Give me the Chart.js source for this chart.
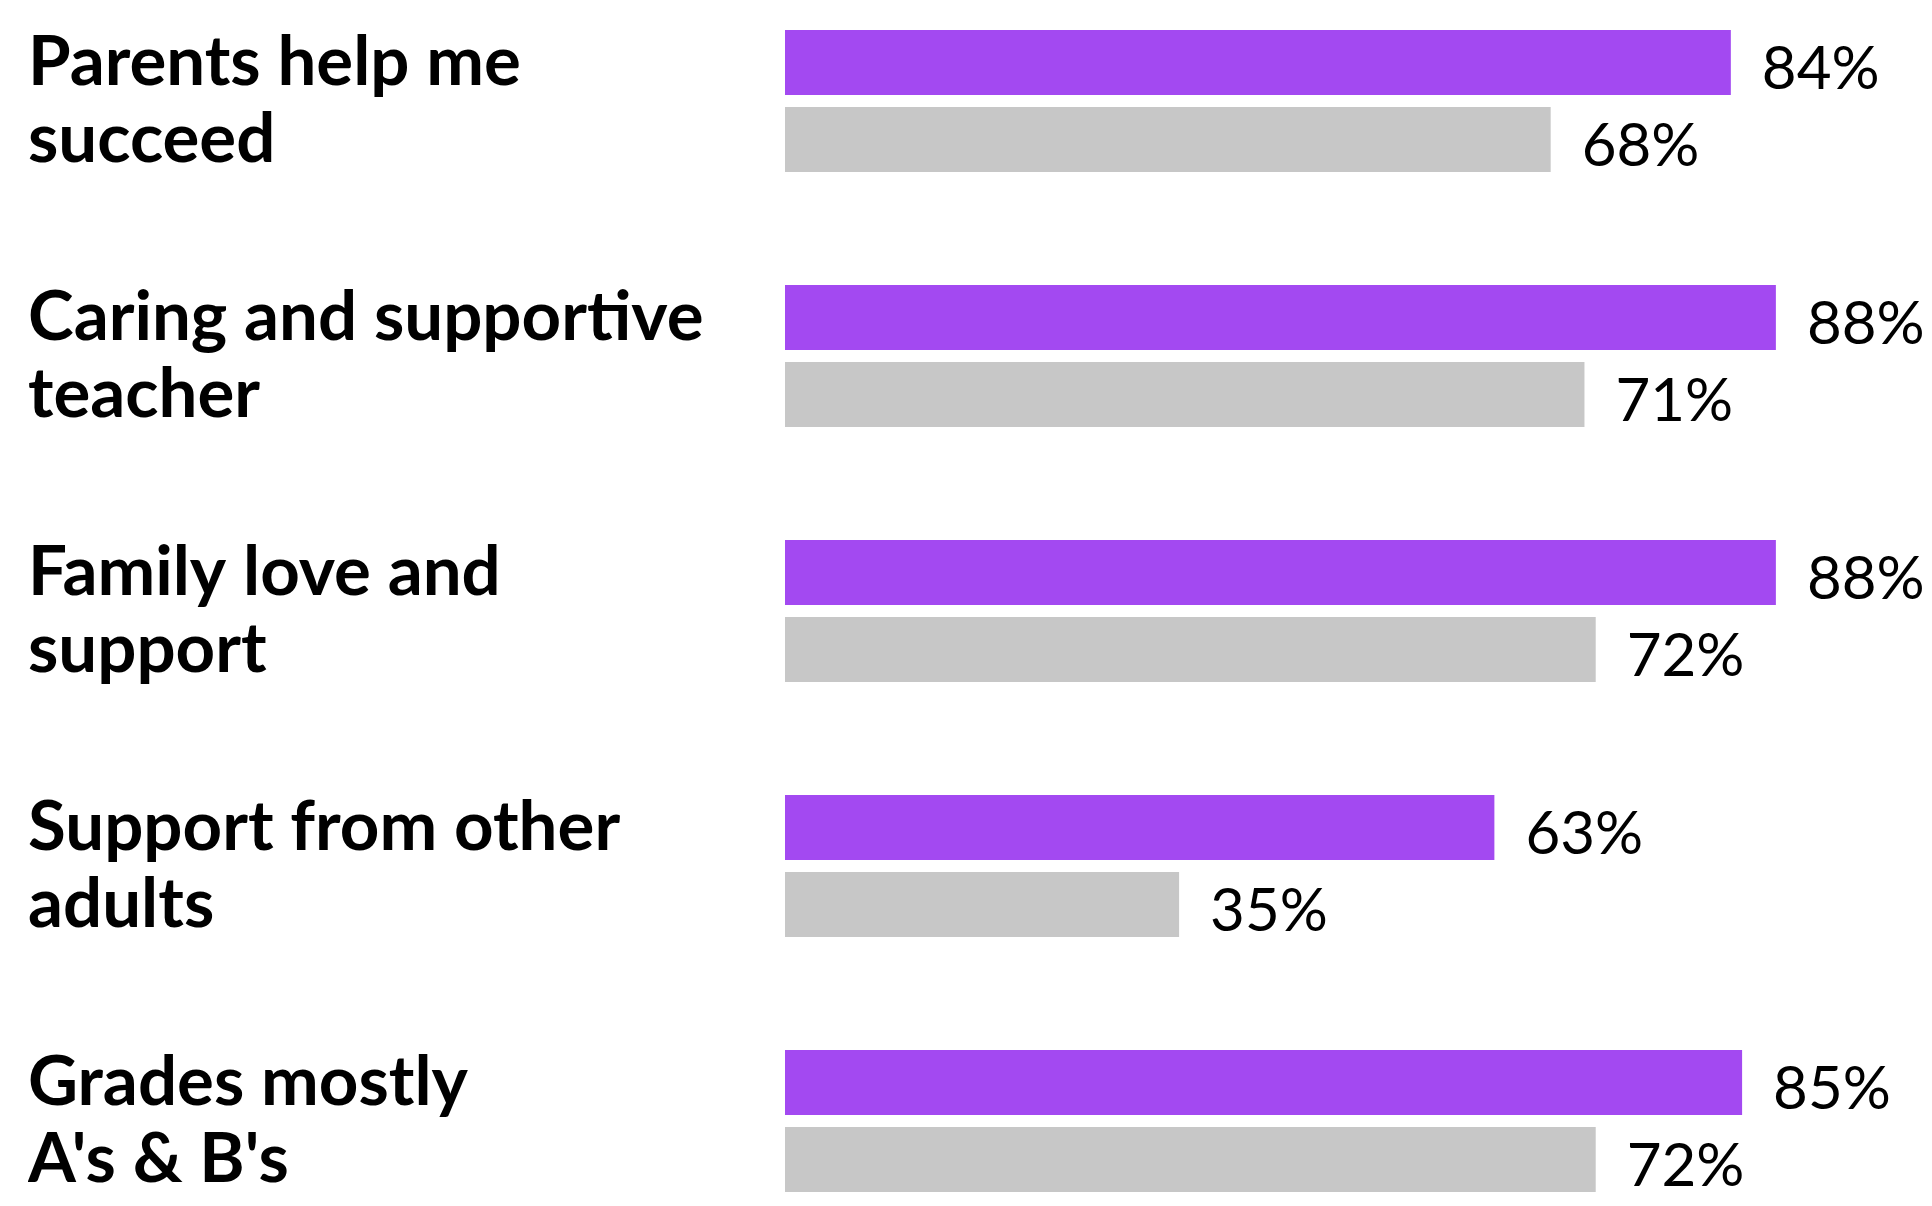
<!DOCTYPE html>
<html>
<head>
<meta charset="utf-8">
<script src="https://cdn.jsdelivr.net/npm/chart.js@4/dist/chart.umd.min.js"></script>
<style>
  html, body { margin: 0; padding: 0; background: #fff; }
  #wrap { width: 1932px; height: 1206px; position: relative; }
</style>
</head>
<body>
<div id="wrap"><canvas id="chart"></canvas></div>
<script>
const categories = [
    ["Parents help me", "succeed"],
    ["Caring and supportive", "teacher"],
    ["Family love and", "support"],
    ["Support from other", "adults"],
    ["Grades mostly", "A's & B's"]
];
const purpleValues = [84, 88, 88, 63, 85];
const grayValues = [68, 71, 72, 35, 72];

const PURPLE = "#a349f1";
const GRAY = "#c7c7c7";

// etiquetas de valor a la derecha de cada barra
const valueLabels = {
    id: "valueLabels",
    afterDatasetsDraw(chart) {
        const ctx = chart.ctx;
        ctx.save();
        ctx.font = "60px Lato";
        ctx.fillStyle = "#000";
        ctx.textAlign = "left";
        ctx.textBaseline = "middle";
        chart.data.datasets.forEach((ds, i) => {
            chart.getDatasetMeta(i).data.forEach((bar, j) => {
                ctx.fillText(ds.data[j] + "%", bar.x + 31, bar.y + 7);
            });
        });
        ctx.restore();
    }
};

new Chart(document.getElementById("chart"), {
    type: "bar",
    data: {
        labels: categories,
        datasets: [
            { label: "Series 1", data: purpleValues, backgroundColor: PURPLE, clip: false },
            { label: "Series 2", data: grayValues, backgroundColor: GRAY, clip: false }
        ]
    },
    options: {
        indexAxis: "y",
        responsive: true,
        maintainAspectRatio: false,
        animation: false,
        categoryPercentage: 0.604,
        barPercentage: 0.844,
        layout: { padding: { left: 28, right: 21, top: 101, bottom: 85 } },
        plugins: { legend: { display: false }, tooltip: { enabled: false } },
        scales: {
            x: { display: false, min: 0, max: 100 },
            y: {
                offset: false,
                grid: { display: false },
                border: { display: false },
                ticks: {
                    crossAlign: "far",
                    color: "#000",
                    padding: 0,
                    font: { family: "Lato", weight: "bold", size: 69, lineHeight: "77px" }
                },
                afterFit(scale) { scale.width = 757; }
            }
        }
    },
    plugins: [valueLabels]
});
</script>
</body>
</html>
